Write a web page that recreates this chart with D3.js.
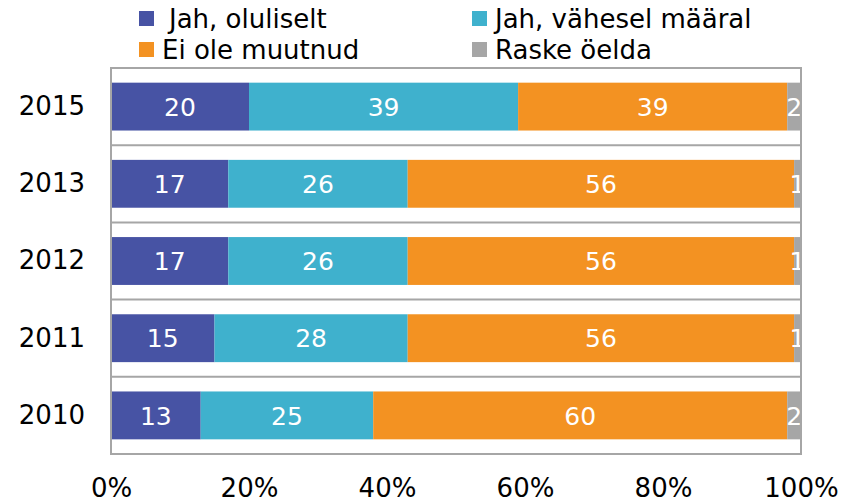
<!DOCTYPE html>
<html lang="et">
<head>
<meta charset="utf-8" />
<title>Stacked bars</title>
<script src="https://d3js.org/d3.v7.min.js"></script>
<style>
  body { margin: 0; background: #fff; }
  text { font-family: "DejaVu Sans", Verdana, sans-serif; }
</style>
</head>
<body>
<script>
// data
const years = ["2015", "2013", "2012", "2011", "2010"];
const seriesNames = ["Jah, oluliselt", "Jah, vähesel määral", "Ei ole muutnud", "Raske öelda"];
const oluliselt = [20, 17, 17, 15, 13];
const vahesel = [39, 26, 26, 28, 25];
const muutnud = [39, 56, 56, 56, 60];
const raske = [2, 1, 1, 1, 2];
const xTicks = [0, 20, 40, 60, 80, 100];

const colours = ["#4753a4", "#3fb1cd", "#f39222", "#a6a6a6"];

const W = 855, H = 503;
const margin = { top: 68, right: 54, bottom: 49, left: 111 };

const rows = years.map((y, i) => ({
  year: y,
  "Jah, oluliselt": oluliselt[i],
  "Jah, vähesel määral": vahesel[i],
  "Ei ole muutnud": muutnud[i],
  "Raske öelda": raske[i]
}));

const stack = d3.stack().keys(seriesNames)(rows);

const svg = d3.select("body").append("svg")
  .attr("width", W).attr("height", H);

const x = d3.scaleLinear().domain([0, 100]).range([margin.left, W - margin.right]);
const y = d3.scaleBand().domain(years).range([margin.top, H - margin.bottom]).paddingInner(0.38).paddingOuter(0.19);

// category separators
const seps = d3.range(1, years.length).map(i => margin.top + (H - margin.bottom - margin.top) * i / years.length);
svg.append("g").selectAll("line").data(seps).join("line")
  .attr("x1", x(0)).attr("x2", x(100))
  .attr("y1", d => d).attr("y2", d => d)
  .attr("stroke", "#a6a6a6").attr("stroke-width", 2);

// bars
const layers = svg.append("g").selectAll("g").data(stack).join("g")
  .attr("fill", (d, i) => colours[i]);

layers.selectAll("rect").data(d => d).join("rect")
  .attr("x", d => x(d[0]))
  .attr("width", d => x(d[1]) - x(d[0]))
  .attr("y", d => y(d.data.year))
  .attr("height", y.bandwidth());

// value labels
layers.selectAll("text").data(d => d.map(v => ({ v, val: v[1] - v[0] }))).join("text")
  .attr("x", d => (x(d.v[0]) + x(d.v[1])) / 2)
  .attr("y", d => y(d.v.data.year) + y.bandwidth() / 2)
  .attr("dy", "0.37em")
  .attr("text-anchor", "middle")
  .attr("fill", "#fff")
  .attr("font-size", 25)
  .text(d => d.val);

// plot border
svg.append("rect")
  .attr("x", x(0)).attr("y", margin.top)
  .attr("width", x(100) - x(0)).attr("height", H - margin.bottom - margin.top)
  .attr("fill", "none").attr("stroke", "#a6a6a6").attr("stroke-width", 2);

// y axis
const yAxis = svg.append("g")
  .attr("transform", `translate(${x(0)},0)`)
  .call(d3.axisLeft(y).tickSize(0).tickPadding(26));
yAxis.select(".domain").remove();
yAxis.selectAll("text").attr("font-size", 26).attr("fill", "#000").attr("font-family", null);

// x axis
const xAxis = svg.append("g")
  .attr("transform", `translate(0,${H - margin.bottom})`)
  .call(d3.axisBottom(x).tickValues(xTicks).tickSize(0).tickPadding(25).tickFormat(d => d + "%"));
xAxis.select(".domain").remove();
xAxis.selectAll("text").attr("font-size", 26).attr("fill", "#000").attr("font-family", null);

// legend
const legendPos = [[139, 28, 30], [472, 28, 23], [139, 59, 23], [472, 59, 23]];
const legend = svg.append("g").selectAll("g").data(seriesNames).join("g")
  .attr("transform", (d, i) => `translate(${legendPos[i][0]},${legendPos[i][1]})`);
legend.append("rect")
  .attr("x", 0).attr("y", -17).attr("width", 15).attr("height", 15)
  .attr("fill", (d, i) => colours[i]);
legend.append("text")
  .attr("x", (d, i) => legendPos[i][2]).attr("y", 0)
  .attr("font-size", 26)
  .attr("fill", "#000")
  .text(d => d);
</script>
</body>
</html>
